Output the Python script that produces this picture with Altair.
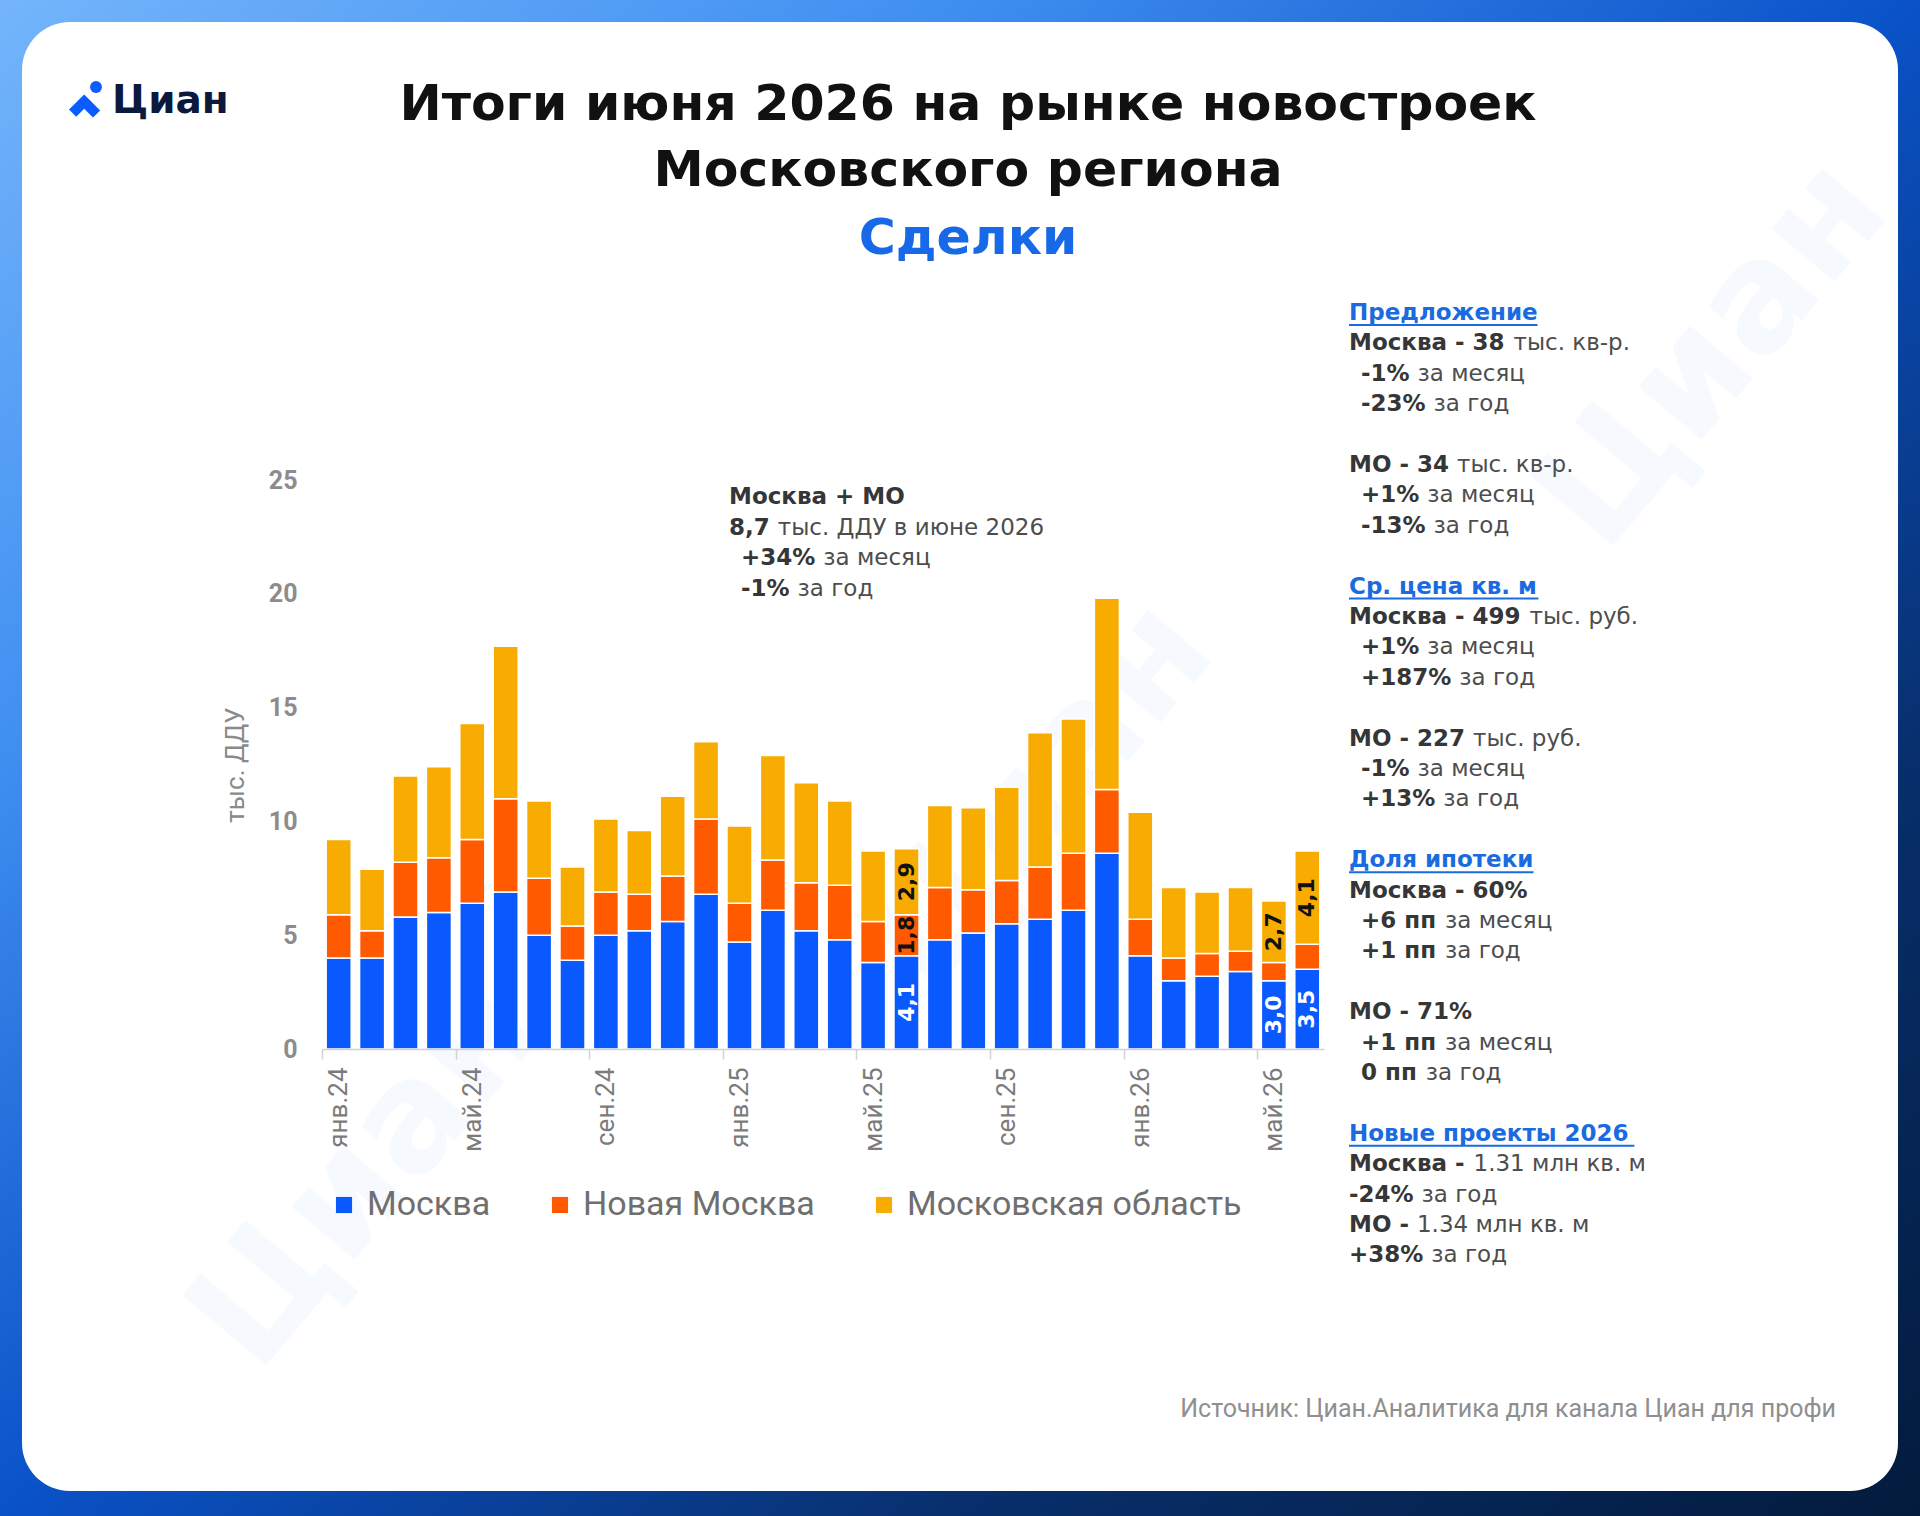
import altair as alt
import pandas as pd

# ---------------- data ----------------
months = ["янв.24", "фев.24", "мар.24", "апр.24", "май.24", "июн.24", "июл.24", "авг.24",
          "сен.24", "окт.24", "ноя.24", "дек.24", "янв.25", "фев.25", "мар.25", "апр.25",
          "май.25", "июн.25", "июл.25", "авг.25", "сен.25", "окт.25", "ноя.25", "дек.25",
          "янв.26", "фев.26", "мар.26", "апр.26", "май.26", "июн.26"]
moscow = [4.0, 4.0, 5.8, 6.0, 6.4, 6.9, 5.0, 3.9, 5.0, 5.2, 5.6, 6.8, 4.7, 6.1, 5.2,
          4.8, 3.8, 4.1, 4.8, 5.1, 5.5, 5.7, 6.1, 8.6, 4.1, 3.0, 3.2, 3.4, 3.0, 3.5]
new_moscow = [1.9, 1.2, 2.4, 2.4, 2.8, 4.1, 2.5, 1.5, 1.9, 1.6, 2.0, 3.3, 1.7, 2.2, 2.1,
              2.4, 1.8, 1.8, 2.3, 1.9, 1.9, 2.3, 2.5, 2.8, 1.6, 1.0, 1.0, 0.9, 0.8, 1.1]
mo_region = [3.3, 2.7, 3.8, 4.0, 5.1, 6.7, 3.4, 2.6, 3.2, 2.8, 3.5, 3.4, 3.4, 4.6, 4.4,
             3.7, 3.1, 2.9, 3.6, 3.6, 4.1, 5.9, 5.9, 8.4, 4.7, 3.1, 2.7, 2.8, 2.7, 4.1]
series = ["Москва", "Новая Москва", "Московская область"]
series_colors = ["#0a59ff", "#ff5a00", "#f8ab00"]
y_ticks = [0, 5, 10, 15, 20, 25]
x_tick_months = months[::4]
labeled_points = [("июн.25", "Москва"), ("июн.25", "Новая Москва"), ("июн.25", "Московская область"),
                  ("май.26", "Москва"), ("май.26", "Московская область"),
                  ("июн.26", "Москва"), ("июн.26", "Московская область")]

title_lines = ["Итоги июня 2026 на рынке новостроек", "Московского региона"]
subtitle = "Сделки"
annotation = [("Москва + МО", "", 0), ("8,7", "тыс. ДДУ в июне 2026", 0),
              ("+34%", "за месяц", 1), ("-1%", "за год", 1)]
panel = [
    (0, "h", "Предложение", ""),
    (1, 0, "Москва - 38", "тыс. кв-р."),
    (2, 1, "-1%", "за месяц"),
    (3, 1, "-23%", "за год"),
    (5, 0, "МО - 34", "тыс. кв-р."),
    (6, 1, "+1%", "за месяц"),
    (7, 1, "-13%", "за год"),
    (9, "h", "Ср. цена кв. м", ""),
    (10, 0, "Москва - 499", "тыс. руб."),
    (11, 1, "+1%", "за месяц"),
    (12, 1, "+187%", "за год"),
    (14, 0, "МО - 227", "тыс. руб."),
    (15, 1, "-1%", "за месяц"),
    (16, 1, "+13%", "за год"),
    (18, "h", "Доля ипотеки", ""),
    (19, 0, "Москва - 60%", ""),
    (20, 1, "+6 пп", "за месяц"),
    (21, 1, "+1 пп", "за год"),
    (23, 0, "МО - 71%", ""),
    (24, 1, "+1 пп", "за месяц"),
    (25, 1, "0 пп", "за год"),
    (27, "h", "Новые проекты 2026", ""),
    (28, 0, "Москва -", "1.31 млн кв. м"),
    (29, 0, "-24%", "за год"),
    (30, 0, "МО -", "1.34 млн кв. м"),
    (31, 0, "+38%", "за год"),
]
source_text = "Источник: Циан.Аналитика для канала Циан для профи"

rows = []
for i, m in enumerate(months):
    base = 0.0
    for k, (s, vals) in enumerate(zip(series, [moscow, new_moscow, mo_region])):
        v = vals[i]
        rows.append({"month": m, "series": s, "value": v, "ord": k,
                     "mid": base + v / 2, "label": f"{v:.1f}".replace(".", ",")})
        base += v
df = pd.DataFrame(rows)
mask = [(r.month, r.series) in labeled_points for r in df.itertuples()]
lab = df[mask]
lab_white = lab[lab["series"] == "Москва"]
lab_black = lab[lab["series"] != "Москва"]

# ---------------- layout ----------------
W, H = 1920, 1516
PL, PT = 322, 480
PW, PH = 1002, 569
step = PW / len(months)
ONE = pd.DataFrame({"k": [1]})
BODY = "DejaVu Sans"
FS = 23

BW = {' ': 0.348, '-': 0.415, '+': 0.838, '%': 1.002, '.': 0.380, ',': 0.380,
      'М': 0.995, 'О': 0.850, 'о': 0.687, 'с': 0.595, 'к': 0.665, 'в': 0.686,
      'а': 0.675, 'п': 0.712, 'П': 0.837, 'р': 0.716, 'е': 0.678, 'д': 0.74,
      'л': 0.72, 'ж': 1.04, 'н': 0.712, 'и': 0.712, 'С': 0.734, 'ц': 0.735,
      'м': 0.83, 'Д': 0.80, 'я': 0.70, 'т': 0.60, 'Н': 0.838, 'ы': 0.99}


def bwidth(s, size=FS):
    return sum(BW.get(c, 0.696) for c in s) * size


def txt(x, y, s, size=FS, weight="normal", color="#4d4d4d", font=BODY,
        align="left", baseline="middle", angle=0):
    return alt.Chart(ONE).mark_text(
        text=s, align=align, baseline=baseline, font=font, fontSize=size,
        fontWeight=weight, color=color, angle=angle
    ).encode(x=alt.value(x - PL), y=alt.value(y - PT))


layers = []

# background frame and card
grad = alt.LinearGradient(gradient="linear", x1=0, y1=0, x2=1, y2=1, stops=[
    alt.GradientStop(offset=0, color="#74b5fb"),
    alt.GradientStop(offset=0.25, color="#3f8ff1"),
    alt.GradientStop(offset=0.5, color="#0a52c8"),
    alt.GradientStop(offset=0.75, color="#082f6c"),
    alt.GradientStop(offset=1, color="#031b3c")])
layers.append(alt.Chart(ONE).mark_rect(fill=grad).encode(
    x=alt.value(-PL), x2=alt.value(W - PL), y=alt.value(-PT), y2=alt.value(H - PT)))
layers.append(alt.Chart(ONE).mark_rect(fill="white", cornerRadius=48).encode(
    x=alt.value(22 - PL), x2=alt.value(1898 - PL), y=alt.value(22 - PT), y2=alt.value(1491 - PT)))

# faint watermarks
for (wx, wy) in [(367, 1175), (1040, 796), (1714, 355)]:
    layers.append(txt(wx, wy, "Циан", size=150, weight="bold", color="#f6f9fe",
                      align="center", angle=310))

# bars
x_axis = alt.Axis(values=x_tick_months, labelAngle=270, labelFont="Roboto", labelFontSize=26,
                  labelColor="#7b7b7b", labelPadding=8, labelOverlap=False,
                  tickColor="#d2d2d2", tickSize=10, tickWidth=1.5,
                  tickOffset=-step / 2, labelOffset=step / 2,
                  domainColor="#d2d2d2", domainWidth=1.5, grid=False, title=None, zindex=1)
y_axis = alt.Axis(values=y_ticks, domain=False, ticks=False, grid=False, labelFont="Roboto",
                  labelFontSize=25, labelFontWeight="bold", labelColor="#8c8c8c",
                  labelPadding=25, title=None, zindex=1)
x_scale = alt.Scale(domain=months, paddingInner=0.25, paddingOuter=0.125)
y_scale = alt.Scale(domain=[0, 25], nice=False)

bars = alt.Chart(df).mark_bar(stroke="white", strokeWidth=1.5).encode(
    x=alt.X("month:N", scale=x_scale, axis=x_axis, sort=months),
    y=alt.Y("value:Q", stack="zero", scale=y_scale, axis=y_axis),
    color=alt.Color("series:N", scale=alt.Scale(domain=series, range=series_colors),
                    legend=alt.Legend(orient="none", legendX=5, legendY=708,
                                      direction="horizontal", title=None,
                                      symbolType="square", symbolSize=260,
                                      symbolStrokeWidth=0, labelFont="Roboto",
                                      labelFontSize=34, labelColor="#6f6f6f",
                                      labelLimit=0, columnPadding=52, labelOffset=6,
                                      padding=0)),
    order=alt.Order("ord:Q"),
)
layers.append(bars)

for dsub, col in [(lab_white, "white"), (lab_black, "#111111")]:
    layers.append(alt.Chart(dsub).mark_text(
        angle=270, align="center", baseline="middle", font=BODY, fontSize=22,
        fontWeight="bold", color=col
    ).encode(
        x=alt.X("month:N", scale=x_scale, axis=x_axis, sort=months),
        y=alt.Y("mid:Q", stack=None, scale=y_scale, axis=y_axis),
        text="label:N"))

# y-axis title
layers.append(txt(236, 765, "тыс. ДДУ", size=26, color="#8a8a8a", font="Roboto",
                  align="center", angle=270))

# titles
layers.append(txt(968, 105, title_lines[0], size=50.5, weight="bold", color="#111111", align="center"))
layers.append(txt(968, 171, title_lines[1], size=50.5, weight="bold", color="#111111", align="center"))
layers.append(txt(968, 239, subtitle, size=50.5, weight="bold", color="#1769e8", align="center"))

# logo
layers.append(txt(112, 113, "Циан", size=39, weight="bold", color="#0b1a3c", baseline="alphabetic"))
layers.append(alt.Chart(ONE).mark_point(shape="circle", filled=True, size=140, color="#0a5cff",
                                        opacity=1).encode(x=alt.value(96 - PL), y=alt.value(87 - PT)))
chevron = "M -1 0.35 L -0.05 -0.6 L 0.95 0.4 L 0.5 0.85 L -0.05 0.3 L -0.55 0.8 Z"
layers.append(alt.Chart(ONE).mark_point(shape=chevron, filled=True, size=1024, color="#0a5cff",
                                        opacity=1, strokeWidth=0).encode(
    x=alt.value(85 - PL), y=alt.value(104 - PT)))

# annotation block
AX0 = 729
for j, (b, r, ind) in enumerate(annotation):
    yy = 497 + j * 30.6
    xx = AX0 + ind * 12
    layers.append(txt(xx, yy, b, weight="bold", color="#363636"))
    if r:
        layers.append(txt(xx + bwidth(b + " "), yy, r, color="#4d4d4d"))

# right panel
PX0 = 1349
for (idx, kind, b, r) in panel:
    yy = 313 + idx * 30.4
    if kind == "h":
        layers.append(txt(PX0, yy, b, weight="bold", color="#1a6be0"))
        layers.append(alt.Chart(ONE).mark_rule(color="#1a6be0", strokeWidth=2).encode(
            x=alt.value(PX0 - PL), x2=alt.value(PX0 + bwidth(b) - PL), y=alt.value(yy + 12 - PT)))
    else:
        xx = PX0 + kind * 12
        layers.append(txt(xx, yy, b, weight="bold", color="#363636"))
        if r:
            layers.append(txt(xx + bwidth(b + " "), yy, r, color="#4d4d4d"))

# source
layers.append(txt(1836, 1409, source_text, size=25, color="#8f8f8f", font="Roboto", align="right"))

chart = alt.layer(*layers).properties(
    width=PW, height=PH,
    padding={"left": PL, "top": PT, "right": W - PL - PW, "bottom": H - PT - PH},
    autosize=alt.AutoSizeParams(type="none"),
).configure_view(stroke=None).configure(background="#1a5fd6")

chart.save("out.html", embed_options={"renderer": "svg", "actions": False})
